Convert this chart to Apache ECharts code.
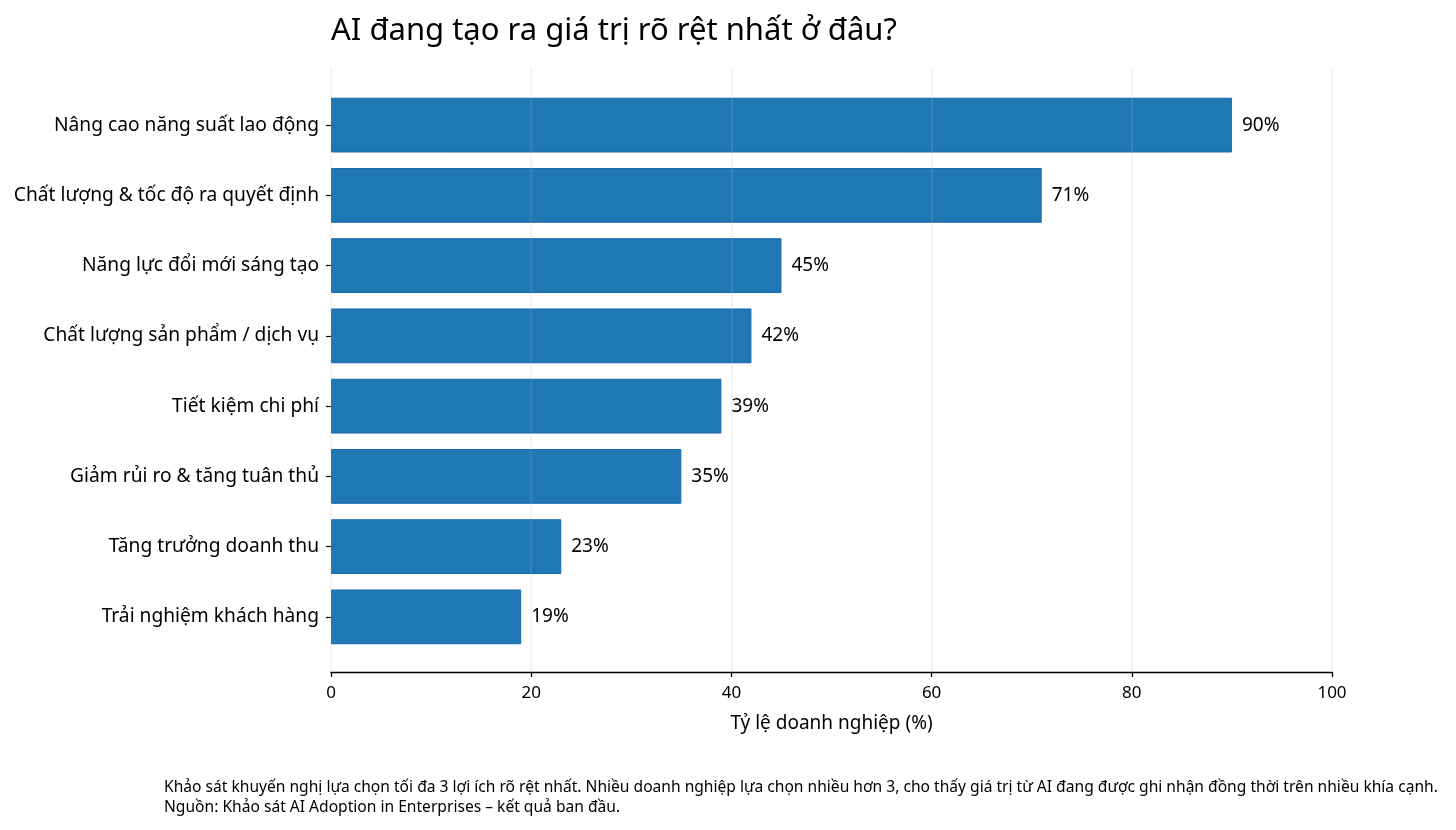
<!DOCTYPE html>
<html>
<head>
<meta charset="utf-8">
<script src="https://cdn.jsdelivr.net/npm/echarts@6/dist/echarts.min.js"></script>
<style>html,body{margin:0;padding:0;background:#fff;}#c{width:1456px;height:830px;}</style>
</head>
<body>
<div id="c"></div>
<script>
const categories = [
  'Nâng cao năng suất lao động',
  'Chất lượng & tốc độ ra quyết định',
  'Năng lực đổi mới sáng tạo',
  'Chất lượng sản phẩm / dịch vụ',
  'Tiết kiệm chi phí',
  'Giảm rủi ro & tăng tuân thủ',
  'Tăng trưởng doanh thu',
  'Trải nghiệm khách hàng'
];
const values = [90, 71, 45, 42, 39, 35, 23, 19];
const xTicks = [0, 20, 40, 60, 80, 100];
const titleText = 'AI đang tạo ra giá trị rõ rệt nhất ở đâu?';
const xAxisName = 'Tỷ lệ doanh nghiệp (%)';
const footnotes = [
  'Khảo sát khuyến nghị lựa chọn tối đa 3 lợi ích rõ rệt nhất. Nhiều doanh nghiệp lựa chọn nhiều hơn 3, cho thấy giá trị từ AI đang được ghi nhận đồng thời trên nhiều khía cạnh.',
  'Nguồn: Khảo sát AI Adoption in Enterprises – kết quả ban đầu.'
];

const FONT = 'Noto Sans';
const chart = echarts.init(document.getElementById('c'));
chart.setOption({
  animation: false,
  textStyle: { fontFamily: FONT },
  title: {
    text: titleText, left: 326, top: 11,
    textStyle: { fontFamily: FONT, fontSize: 31, fontWeight: 'normal', color: '#000' }
  },
  grid: [
    { left: 331, right: 124, top: 90, bottom: 178 },
    { left: 331, right: 124, top: 68, bottom: 158 }
  ],
  xAxis: [
    { gridIndex: 0, type: 'value', min: 0, max: 100, interval: 20, show: false },
    {
      gridIndex: 1, type: 'value', min: 0, max: 100, interval: 20, z: 5,
      name: xAxisName, nameLocation: 'middle', nameGap: 42,
      nameTextStyle: { fontFamily: FONT, fontSize: 19, color: '#000' },
      axisLine: { show: true, lineStyle: { color: '#000', width: 1.3 } },
      axisTick: { show: true, length: 5, lineStyle: { color: '#000', width: 1.3 } },
      axisLabel: { fontFamily: FONT, fontSize: 17, color: '#000', margin: 13,
        formatter: v => xTicks.includes(v) ? String(v) : '' },
      splitLine: { show: true, lineStyle: { color: 'rgba(180,180,180,0.22)', width: 1.5 } }
    }
  ],
  yAxis: [
    {
      gridIndex: 0, type: 'category', data: categories, inverse: true,
      axisLine: { show: false },
      axisTick: { show: true, length: 5, alignWithLabel: true, lineStyle: { color: '#000', width: 1.2 } },
      axisLabel: { fontFamily: FONT, fontSize: 19.2, color: '#000', margin: 12 }
    },
    { gridIndex: 1, type: 'value', show: false }
  ],
  series: [{
    type: 'bar', xAxisIndex: 0, yAxisIndex: 0, data: values,
    barCategoryGap: '22%', z: 2,
    itemStyle: { color: '#1f77b4', borderColor: '#1a68ad', borderWidth: 1 },
    label: { show: true, position: 'right', distance: 10, formatter: '{c}%',
      fontFamily: FONT, fontSize: 19, color: '#000' }
  }],
  graphic: [{
    type: 'text', left: 164, top: 778,
    style: { text: footnotes.join('\n'), fontFamily: FONT, fontSize: 15.6, lineHeight: 20, fill: '#000' }
  }]
});
</script>
</body>
</html>
